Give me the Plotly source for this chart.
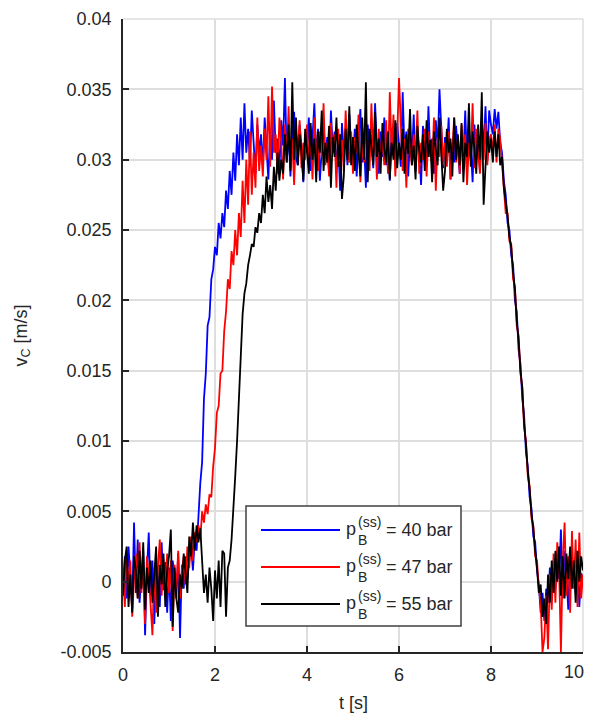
import numpy as np
import plotly.graph_objects as go

# sampling grid of the measurement [s]
t = np.round(np.arange(251) * 0.04, 2)

# velocity values in units of 1e-4 m/s (rows of 1 s)
v40 = [
    -5, 18, -12, 25, 3, -20, 42, -8, 30, -15, 5, 22, -38, 8, 35, -10, 15, -30, 12, 2, -18, 28, -6, 14, -22,
    10, -28, 15, 5, -12, 20, -40, 12, -5, 18, 2, 15, 25, 8, 30, 22, 48, 70, 85, 130, 148, 182, 188, 215, 222,
    238, 232, 255, 244, 262, 252, 278, 265, 292, 275, 305, 285, 318, 296, 330, 300, 340, 305, 322, 298, 335, 312, 290, 325, 305,
    318, 295, 330, 308, 286, 322, 300, 342, 305, 315, 292, 328, 310, 358, 298, 320, 288, 316, 334, 302, 296, 325, 310, 284, 318,
    305, 330, 292, 315, 340, 300, 322, 285, 310, 328, 298, 316, 290, 335, 308, 320, 295, 312, 278, 326, 304, 318, 296, 332, 310,
    300, 322, 288, 315, 336, 298, 312, 280, 325, 305, 318, 294, 340, 308, 290, 320, 302, 330, 296, 314, 285, 322, 310, 298, 326,
    312, 295, 348, 305, 320, 288, 316, 300, 332, 292, 318, 306, 282, 324, 310, 296, 338, 302, 315, 290, 328, 308, 350, 320, 294,
    316, 305, 330, 286, 312, 298, 324, 308, 290, 318, 302, 335, 296, 320, 310, 284, 325, 300, 316, 292, 330, 306, 338, 300, 335,
    325, 318, 336, 322, 334, 312, 305, 285, 275, 255, 250, 232, 225, 200, 192, 165, 155, 130, 118, 92, 82, 60, 52, 32, 28,
    8, -2, -22, -8, -28, -5, -15, 10, -10, 15, -5, 20, 2, 37, -12, 22, 5, -20, 18, 0, 12, -8, 15, -18, 6,
    2,
]
v47 = [
    8, -18, 22, -5, 15, -25, 2, 20, -12, 28, -8, 12, -30, 18, 5, -15, -38, 10, -22, 10, 30, -10, 16, -6, 20,
    -8, 15, -35, 12, -5, 22, -12, 8, 18, -2, 25, 10, 32, 15, 35, 28, 40, 30, 50, 42, 55, 48, 62, 60, 82,
    95, 120, 125, 148, 150, 178, 192, 215, 208, 235, 225, 250, 232, 262, 245, 285, 255, 300, 268, 320, 275, 305, 280, 330, 292,
    310, 288, 322, 300, 345, 295, 352, 305, 318, 290, 330, 312, 286, 325, 300, 338, 296, 315, 282, 320, 306, 328, 294, 312, 300,
    325, 298, 315, 286, 330, 308, 292, 320, 302, 340, 296, 312, 288, 326, 305, 318, 280, 322, 300, 314, 292, 335, 306, 298, 320,
    290, 316, 305, 332, 284, 312, 298, 326, 310, 292, 340, 302, 318, 286, 322, 300, 314, 296, 328, 290, 348, 305, 332, 288, 316,
    358, 326, 292, 315, 280, 322, 308, 296, 318, 302, 335, 290, 312, 300, 322, 288, 320, 305, 296, 330, 278, 316, 302, 324, 296,
    312, 295, 320, 286, 308, 330, 298, 316, 290, 325, 305, 318, 282, 312, 300, 340, 294, 322, 306, 290, 318, 300, 326, 296, 314,
    318, 305, 325, 298, 322, 315, 295, 276, 262, 262, 242, 240, 215, 210, 182, 175, 148, 138, 110, 100, 75, 68, 45, 40, 18,
    15, -5, -15, -50, -40, -10, -48, 5, -20, 20, -15, 28, 10, -50, 15, 42, -10, 18, -22, 36, -5, 30, -18, 35, -12,
    5,
]
v55 = [
    -10, 15, 25, -18, 5, -22, 18, 8, -12, 22, -5, 28, -20, 10, -8, 15, -15, 5, 25, -25, 12, -2, 20, -18, 8,
    18, 37, -32, 10, -12, -22, 5, -5, 20, 8, -8, 32, 18, 42, 22, 40, 28, 38, 12, -8, 5, -15, 10, -5, -28,
    8, -12, 15, -18, 22, 20, -25, 10, 15, 30, 50, 75, 100, 135, 160, 190, 205, 212, 225, 232, 240, 238, 252, 248, 262,
    255, 275, 262, 288, 270, 282, 265, 295, 278, 305, 285, 300, 290, 318, 298, 325, 292, 355, 300, 330, 296, 318, 305, 285, 322,
    308, 290, 326, 300, 315, 284, 320, 305, 335, 292, 312, 298, 324, 280, 316, 302, 330, 295, 318, 272, 288, 322, 300, 338, 296,
    316, 292, 325, 305, 288, 330, 300, 355, 284, 322, 306, 296, 334, 302, 315, 290, 326, 308, 298, 320, 286, 312, 300, 328, 294,
    312, 300, 322, 290, 318, 304, 336, 296, 310, 286, 324, 306, 298, 318, 292, 328, 302, 314, 284, 320, 308, 296, 330, 300, 278,
    292, 322, 305, 315, 288, 330, 300, 318, 296, 326, 284, 312, 302, 340, 295, 320, 308, 290, 325, 300, 348, 268, 295, 320, 305,
    315, 298, 320, 302, 318, 296, 302, 280, 270, 260, 245, 238, 220, 208, 185, 172, 150, 138, 112, 98, 78, 66, 48, 38, 22,
    10, -8, -2, -25, -12, -30, 5, -15, 15, -8, 22, 0, 25, -10, 18, -12, 20, 2, 25, -5, 15, -15, 22, 0, 18,
    8,
]

series_names = ["40", "47", "55"]
series_colors = ["#0000ff", "#ff0000", "#000000"]
series_values = [v40, v47, v55]

x_ticks = [0, 2, 4, 6, 8, 10]
x_tick_text = ["0", "2", "4", "6", "8", "10"]
y_ticks = [-0.005, 0, 0.005, 0.01, 0.015, 0.02, 0.025, 0.03, 0.035, 0.04]
y_tick_text = ["-0.005", "0", "0.005", "0.01", "0.015", "0.02", "0.025", "0.03", "0.035", "0.04"]

FONT = "Arial, 'Liberation Sans', Helvetica, sans-serif"
AX = "#262626"
GRID = "#dedede"

# the page body adds an 8 px margin; size the figure so the page fits the window
OFF = 8
VISIBLE_RIGHT = 586
W, H = 586, 707
L, R, T, B = 115, 11, 11, 63
PX0, PX1 = OFF + L, OFF + W - R      # plot area in window pixels
PY0, PY1 = OFF + T, OFF + H - B


def px(x):
    return (x - PX0) / (PX1 - PX0)


def py(y):
    return (PY1 - y) / (PY1 - PY0)


fig = go.Figure()
for name, col, vals in zip(series_names, series_colors, series_values):
    fig.add_trace(go.Scatter(
        x=t, y=np.array(vals) * 1e-4, mode="lines", name=name,
        line=dict(color=col, width=1.8), showlegend=False,
    ))

# the last x tick label would fall past the visible page edge: it is drawn as an annotation
fig.update_layout(
    width=W, height=H,
    margin=dict(l=L, r=R, t=T, b=B, pad=0, autoexpand=False),
    paper_bgcolor="white", plot_bgcolor="white",
    font=dict(family=FONT, size=18, color=AX),
    xaxis=dict(
        range=[0, 10], tickvals=x_ticks, ticktext=x_tick_text[:-1] + [""],
        showgrid=True, gridcolor=GRID, gridwidth=1.5, zeroline=False, automargin=False,
        showline=True, linecolor=AX, linewidth=1.6, mirror=False,
        ticks="inside", ticklen=6, tickwidth=1.5, tickcolor=AX,
        tickfont=dict(size=18, color=AX), ticklabelstandoff=6,
    ),
    yaxis=dict(
        range=[-0.005, 0.04], tickvals=y_ticks, ticktext=y_tick_text,
        showgrid=True, gridcolor=GRID, gridwidth=1.5, zeroline=False, automargin=False,
        showline=True, linecolor=AX, linewidth=1.6, mirror=False,
        ticks="inside", ticklen=6, tickwidth=1.5, tickcolor=AX,
        tickfont=dict(size=18, color=AX), ticklabelstandoff=6,
    ),
)

shapes = []
annotations = []
# top / right grid edges
shapes.append(dict(type="line", xref="paper", yref="paper", x0=0, x1=1, y0=1, y1=1,
                   line=dict(color=GRID, width=1.5), layer="below"))
shapes.append(dict(type="line", xref="paper", yref="paper", x0=1, x1=1, y0=0, y1=1,
                   line=dict(color=GRID, width=1.5), layer="below"))

annotations.append(dict(xref="paper", yref="paper", x=px(VISIBLE_RIGHT - 1), y=py(672),
                        text=x_tick_text[-1], showarrow=False, xanchor="right", yanchor="middle",
                        borderpad=0, font=dict(size=18, color=AX, family=FONT)))

# legend box
shapes.append(dict(type="rect", xref="paper", yref="paper",
                   x0=px(246), x1=px(461), y0=py(626), y1=py(506),
                   line=dict(color="#404040", width=1.5), fillcolor="white", layer="above"))
for i, (name, col) in enumerate(zip(series_names, series_colors)):
    yc = 530 + 37 * i
    shapes.append(dict(type="line", xref="paper", yref="paper",
                       x0=px(261), x1=px(340), y0=py(yc), y1=py(yc),
                       line=dict(color=col, width=2), layer="above"))
    annotations.append(dict(xref="paper", yref="paper", x=px(345), y=py(yc - 1), text="p",
                            showarrow=False, xanchor="left", yanchor="middle", borderpad=0,
                            font=dict(size=18, color=AX, family=FONT)))
    annotations.append(dict(xref="paper", yref="paper", x=px(357), y=py(yc + 1), text="(ss)",
                            showarrow=False, xanchor="left", yanchor="bottom", borderpad=0,
                            font=dict(size=14, color=AX, family=FONT)))
    annotations.append(dict(xref="paper", yref="paper", x=px(357), y=py(yc + 1), text="B",
                            showarrow=False, xanchor="left", yanchor="top", borderpad=0,
                            font=dict(size=14, color=AX, family=FONT)))
    annotations.append(dict(xref="paper", yref="paper", x=px(385), y=py(yc), text="= " + name + " bar",
                            showarrow=False, xanchor="left", yanchor="middle", borderpad=0,
                            font=dict(size=18, color=AX, family=FONT)))

# axis titles
annotations.append(dict(xref="paper", yref="paper", x=0.5, y=py(703), text="t [s]",
                        showarrow=False, xanchor="center", yanchor="middle", borderpad=0,
                        font=dict(size=18, color=AX, family=FONT)))
annotations.append(dict(xref="paper", yref="paper", x=px(22), y=0.5, text="v<sub>C</sub> [m/s]",
                        showarrow=False, xanchor="center", yanchor="middle", textangle=-90,
                        font=dict(size=18, color=AX, family=FONT)))

fig.update_layout(shapes=shapes, annotations=annotations)
fig.write_html("out.html")
